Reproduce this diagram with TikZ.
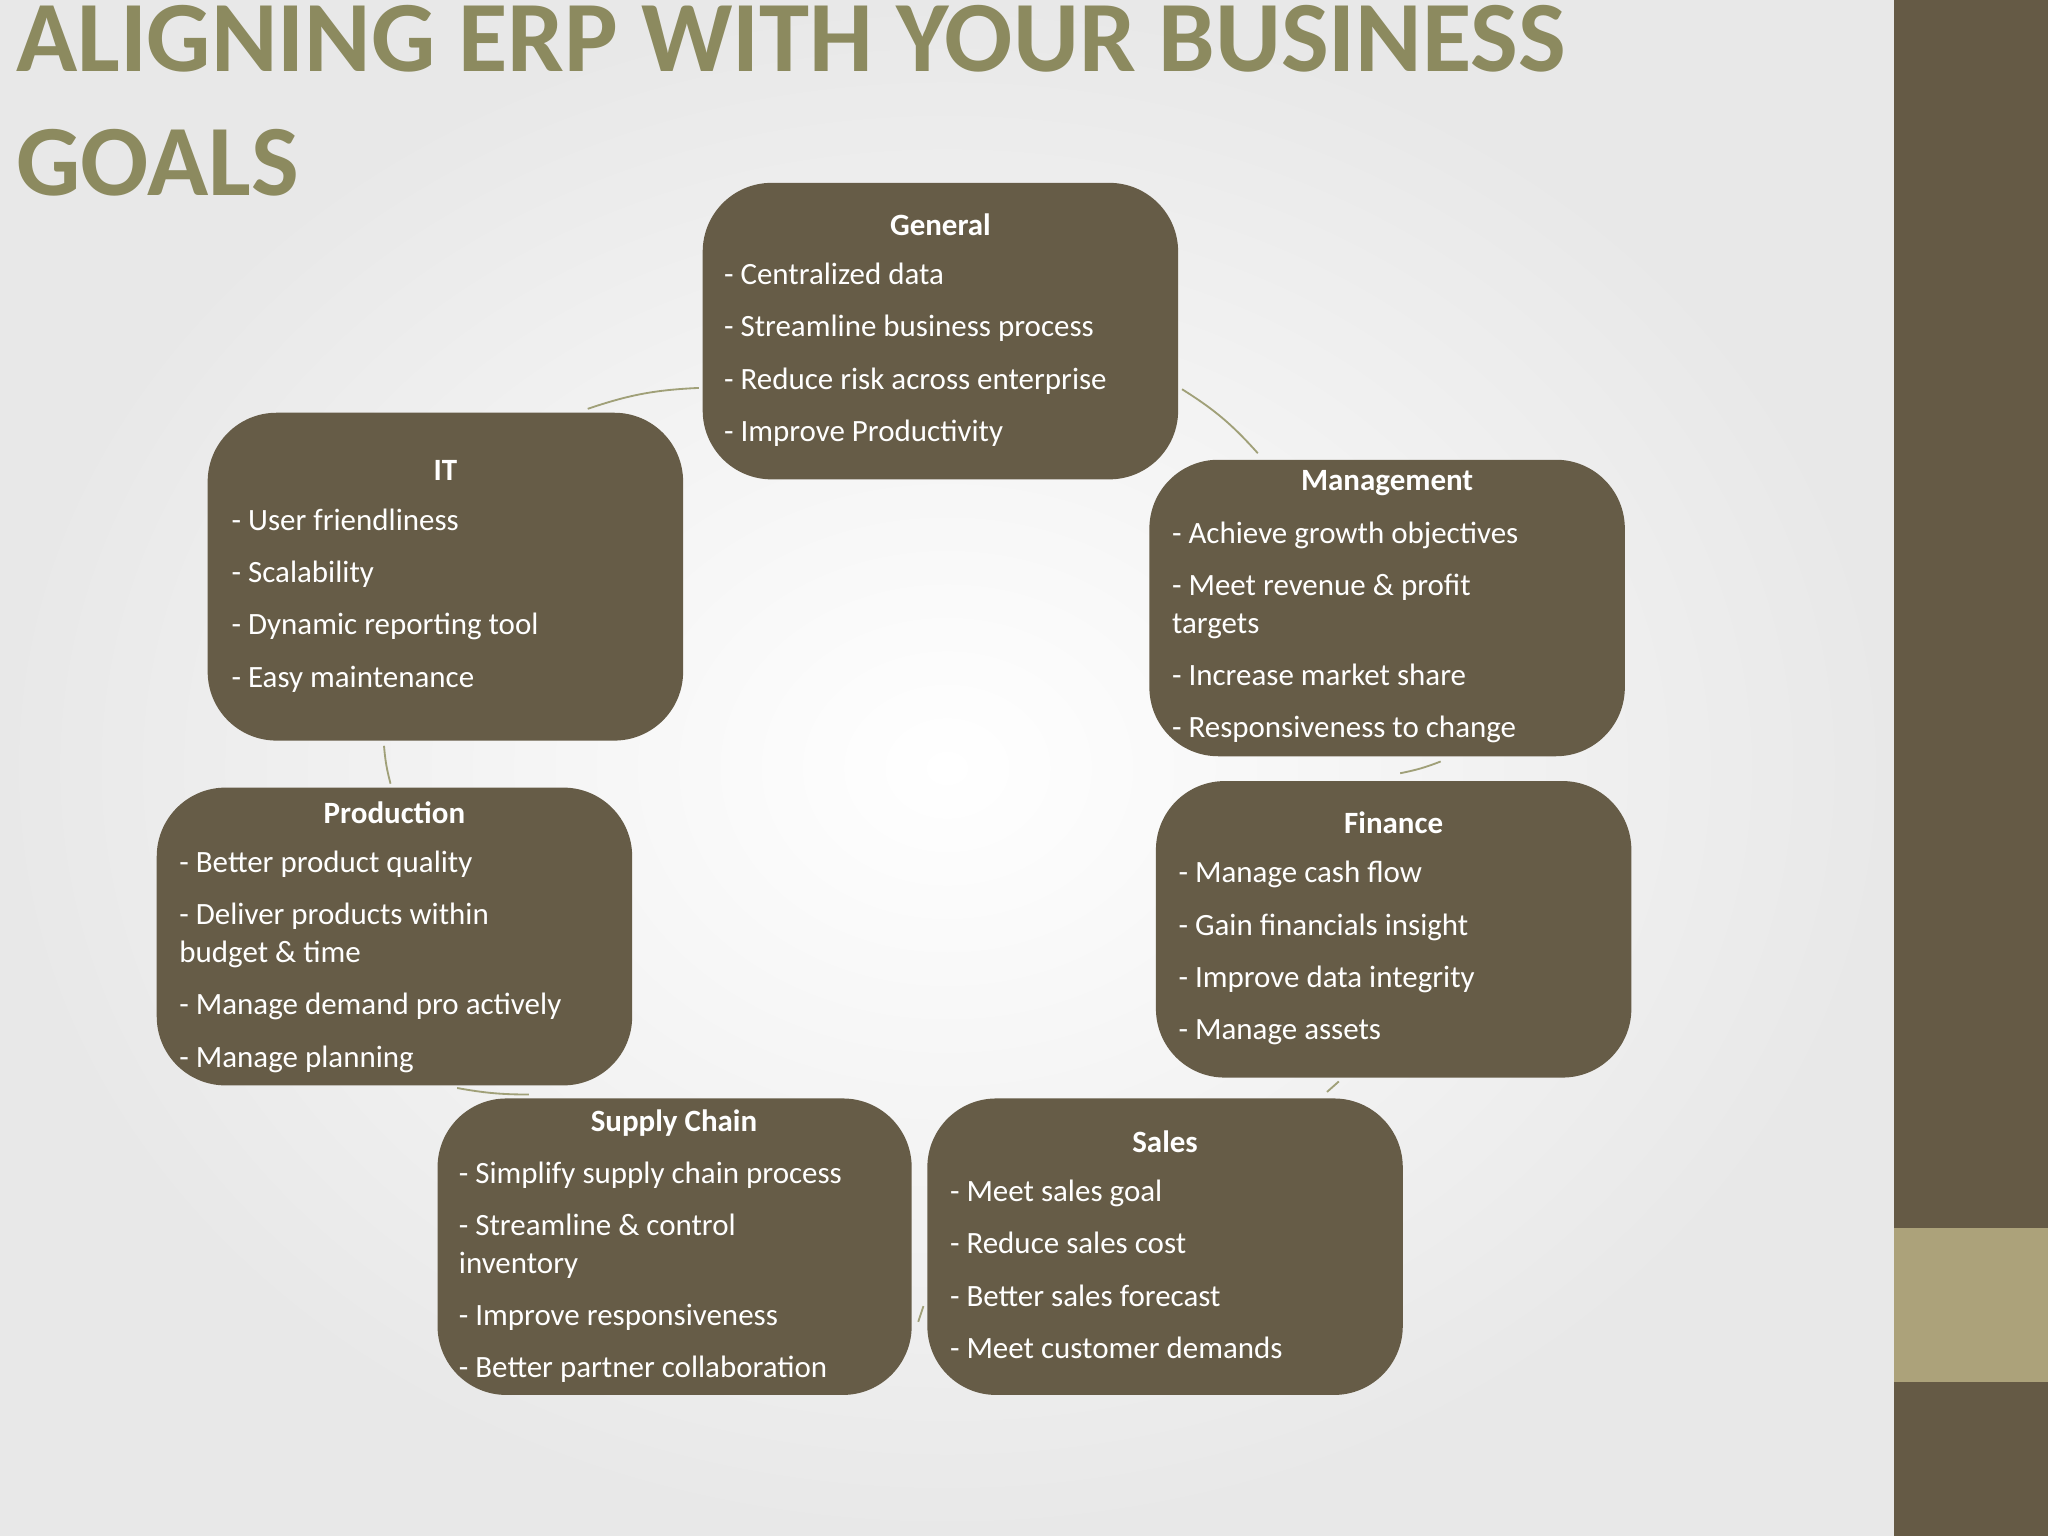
\documentclass[tikz,border=0pt]{standalone}
\usepackage{fontspec}
\setmainfont{Carlito}
\definecolor{boxc}{RGB}{102,92,71}
\definecolor{barc}{RGB}{101,90,69}
\definecolor{barl}{RGB}{172,162,122}
\definecolor{linec}{RGB}{160,160,120}
\definecolor{titlec}{RGB}{140,138,95}
\tikzset{
 gbox/.style={fill=boxc,rounded corners=30pt,draw=none},
 gtitle/.style={text=white,font=\fontsize{13.5}{16.5}\selectfont\bfseries,inner sep=0},
 gitems/.style={text=white,font=\fontsize{13.5}{16.5}\selectfont,align=left,inner sep=0,anchor=north west},
 link/.style={draw=linec,line width=0.8pt}
}
\newcommand{\gap}{\\[6.3pt]}
\begin{document}
\begin{tikzpicture}[x=0.02cm,y=-0.02cm]
\useasboundingbox (0,0) rectangle (1568,1176);
\shade[inner color=white,outer color=gray!18] (0,0) rectangle (1450,1176);
\fill[barc] (1450,0) rectangle (1568,1176);
\fill[barl] (1450,940) rectangle (1568,1058);
\node[anchor=base west,inner sep=0,text=titlec,font=\fontsize{44}{50}\selectfont\bfseries] (t1) at (12,55) {ALIGNING ERP WITH YOUR BUSINESS};
\node[anchor=base west,inner sep=0,text=titlec,font=\fontsize{44}{50}\selectfont\bfseries] (t2) at (12,150) {GOALS};
% boxes
\path[gbox] (538,140) rectangle (902,367); \coordinate (gen) at (720,253);
\path[gbox] (159,316) rectangle (523,567);
\path[gbox] (880,352) rectangle (1244,579);
\path[gbox] (120,603) rectangle (484,831);
\path[gbox] (885,598) rectangle (1249,825);
\path[gbox] (335,841) rectangle (698,1068);
\path[gbox] (710,841) rectangle (1074,1068);
% General
\node[gtitle] (genT) at (720,172) {General};
\node[gitems] (genI) at (554,201) {- Centralized data\gap - Streamline business process\gap - Reduce risk across enterprise\gap - Improve Productivity};
% IT
\node[gtitle] (itT) at (341,360) {IT};
\node[gitems] (itI) at (177,389) {- User friendliness\gap - Scalability\gap - Dynamic reporting tool\gap - Easy maintenance};
% Management
\node[gtitle] (mgT) at (1062,370) {Management};
\node[gitems] (mgI) at (897,399) {- Achieve growth objectives\gap - Meet revenue \& profit\\targets\gap - Increase market share\gap - Responsiveness to change};
% Production
\node[gtitle] (prT) at (302,622) {Production};
\node[gitems] (prI) at (137,651) {- Better product quality\gap - Deliver products within\\budget \& time\gap - Manage demand pro actively\gap - Manage planning};
% Finance
\node[gtitle] (fiT) at (1067,630) {Finance};
\node[gitems] (fiI) at (902,659) {- Manage cash flow\gap - Gain financials insight\gap - Improve data integrity\gap - Manage assets};
% Supply chain
\node[gtitle] (scT) at (516,860) {Supply Chain};
\node[gitems] (scI) at (351,889) {- Simplify supply chain process\gap - Streamline \& control\\inventory\gap - Improve responsiveness\gap - Better partner collaboration};
% Sales
\node[gtitle] (saT) at (892,874) {Sales};
\node[gitems] (saI) at (727,903) {- Meet sales goal\gap - Reduce sales cost\gap - Better sales forecast\gap - Meet customer demands};
% connectors
\coordinate (a1) at (535,297); \coordinate (a2) at (450,313);
\coordinate (b1) at (905,298); \coordinate (b2) at (963,347);
\coordinate (c1) at (1103,583); \coordinate (c2) at (1072,592);
\coordinate (d1) at (1025,828); \coordinate (d2) at (1016,836);
\coordinate (e1) at (707,1000); \coordinate (e2) at (703,1012);
\coordinate (f1) at (405,838); \coordinate (f2) at (350,833);
\coordinate (g1) at (294,571); \coordinate (g2) at (299,600);
\draw[link] (a1) to[bend right=8] (a2);
\draw[link] (b1) to[bend left=8] (b2);
\draw[link] (c1) to[bend left=5] (c2);
\draw[link] (d1) -- (d2);
\draw[link] (e1) -- (e2);
\draw[link] (f1) to[bend left=5] (f2);
\draw[link] (g1) to[bend right=5] (g2);
\end{tikzpicture}
\end{document}
